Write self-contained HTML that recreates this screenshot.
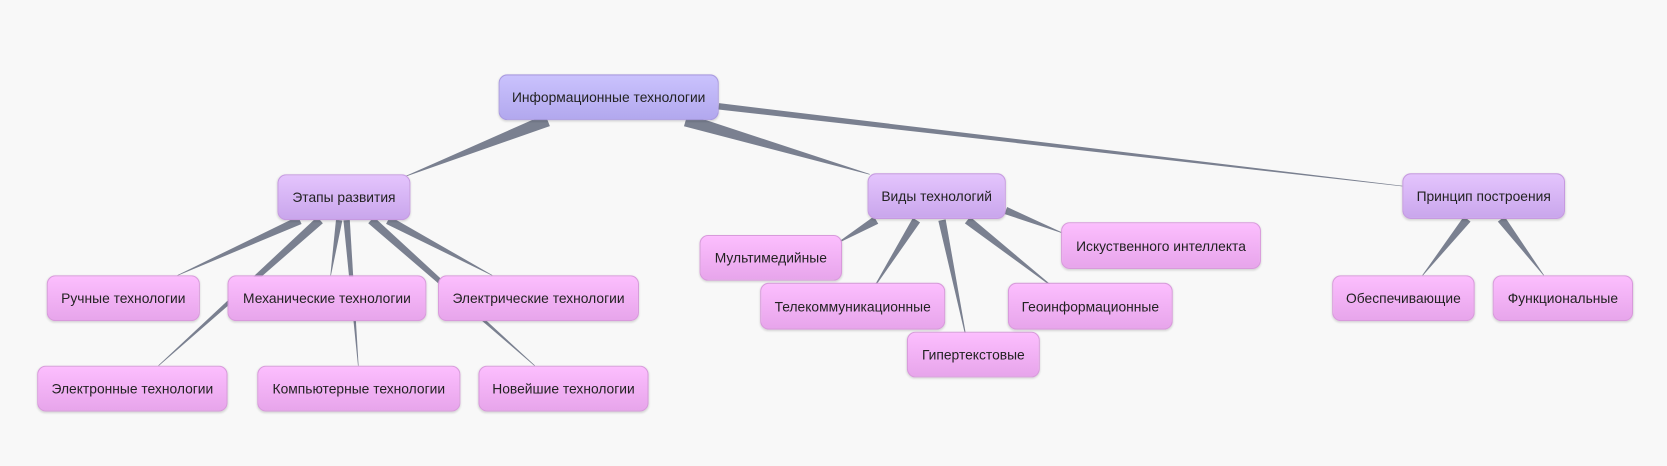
<!DOCTYPE html>
<html><head><meta charset="utf-8"><style>
body{margin:0;width:1667px;height:465px;background:#f8f8f8;overflow:hidden;position:relative;font-family:"Liberation Sans",sans-serif;}
#w{position:absolute;left:0;top:0;width:1568px;height:438px;transform:scale(1.0632);transform-origin:0 0}
svg{position:absolute;left:0;top:0}
.n{position:absolute;box-sizing:border-box;border-radius:8px;display:flex;align-items:center;justify-content:center;font-size:13px;color:#222;white-space:nowrap;box-shadow:0 1px 2px rgba(0,0,0,.15)}
.r{background:linear-gradient(#cac2fd,#b2a8ee);border:1px solid #a99ae0}
.m{background:linear-gradient(#e4c4fd,#c9a6ec);border:1px solid #c69ae0}
.l{background:linear-gradient(#fcbefe,#e7a5eb);border:1px solid #d89adb}
</style></head><body><div id="w">
<svg width="1568" height="438"><g id="e" fill="#7a8090"></g></svg>
<div class="n r" style="left:469px;top:70px;width:207px;height:43px">Информационные технологии</div>
<div class="n m" style="left:261px;top:164px;width:125px;height:43px">Этапы развития</div>
<div class="n m" style="left:816px;top:163px;width:130px;height:43px">Виды технологий</div>
<div class="n m" style="left:1319px;top:163px;width:153px;height:43px">Принцип построения</div>
<div class="n l" style="left:44px;top:259px;width:144px;height:43px">Ручные технологии</div>
<div class="n l" style="left:214px;top:259px;width:187px;height:43px">Механические технологии</div>
<div class="n l" style="left:412px;top:259px;width:189px;height:43px">Электрические технологии</div>
<div class="n l" style="left:35px;top:344px;width:179px;height:43px">Электронные технологии</div>
<div class="n l" style="left:242px;top:344px;width:191px;height:43px">Компьютерные технологии</div>
<div class="n l" style="left:450px;top:344px;width:160px;height:43px">Новейшие технологии</div>
<div class="n l" style="left:658px;top:221px;width:134px;height:43px">Мультимедийные</div>
<div class="n l" style="left:715px;top:266px;width:174px;height:44px">Телекоммуникационные</div>
<div class="n l" style="left:853px;top:312px;width:125px;height:43px">Гипертекстовые</div>
<div class="n l" style="left:948px;top:266px;width:155px;height:44px">Геоинформационные</div>
<div class="n l" style="left:998px;top:209px;width:188px;height:44px">Искуственного интеллекта</div>
<div class="n l" style="left:1253px;top:259px;width:134px;height:43px">Обеспечивающие</div>
<div class="n l" style="left:1404px;top:259px;width:132px;height:43px">Функциональные</div>
</div>
<script>
var E=[[515,113,12,381,166],[645,113,12,818,164],[676,100,6,1319,175],
[282,207,8,167,259],[301,207,8,149,344],[319,207,6,311,259],[326,207,6,337,344],[349,207,8,503,344],[365,207,8,463,259],
[824,207,8,787,229],[862,207,8,821,272],[886,207,7,909,319],[910,207,8,993,272],[946,198,7,999,219],
[1380,206,8,1338,259],[1412,206,8,1452,259]];
var g=document.getElementById('e'),s='';
E.forEach(function(a){var dx=a[3]-a[0],dy=a[4]-a[1],L=Math.hypot(dx,dy),nx=-dy/L,ny=dx/L,w=a[2]/2,t=0.3;
s+='<polygon points="'+(a[0]+nx*w)+','+(a[1]+ny*w)+' '+(a[0]-nx*w)+','+(a[1]-ny*w)+' '+(a[3]-nx*t)+','+(a[4]-ny*t)+' '+(a[3]+nx*t)+','+(a[4]+ny*t)+'"/>';});
g.innerHTML=s;
</script>
</body></html>
